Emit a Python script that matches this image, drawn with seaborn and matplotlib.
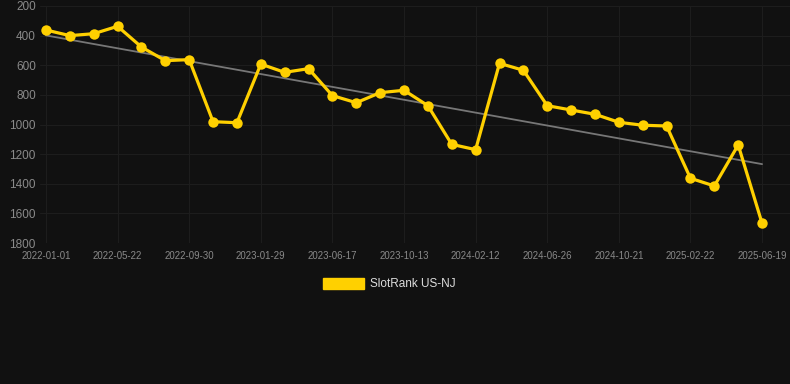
import numpy as np
import pandas as pd
import matplotlib.pyplot as plt
import seaborn as sns
from matplotlib.patches import Patch

# tick labels shown on the x axis (every third sample)
tick_labels = ["2022-01-01", "2022-05-22", "2022-09-30", "2023-01-29", "2023-06-17",
               "2023-10-13", "2024-02-12", "2024-06-26", "2024-10-21", "2025-02-22",
               "2025-06-19"]
# rank values (lower is better, axis is inverted)
rank = [362, 400, 387, 337, 477, 569, 562, 981, 988, 592,
        648, 623, 805, 853, 785, 769, 873, 1134, 1170, 587,
        634, 873, 902, 931, 985, 1005, 1010, 1363, 1415, 1138, 1667]
series_name = "SlotRank US-NJ"

gold = "#FFD000"
bg = "#111111"

df = pd.DataFrame({"idx": np.arange(len(rank)), "rank": rank})

# linear trend
coef = np.polyfit(df["idx"], df["rank"], 1)
trend = np.polyval(coef, df["idx"])

sns.set_theme(style="dark")
plt.rcParams["font.family"] = ["Liberation Sans", "DejaVu Sans"]

fig = plt.figure(figsize=(7.9, 3.84), dpi=100, facecolor=bg)
ax = fig.add_axes([40 / 790, 1 - 243 / 384, 750 / 790, 237 / 384])
ax.set_facecolor(bg)

ax.plot(df["idx"], trend, color="#777777", lw=1.3, zorder=2)
sns.lineplot(data=df, x="idx", y="rank", ax=ax, color=gold, lw=2.3,
             marker="o", markersize=7.5, markeredgewidth=0, zorder=3)

ax.set_ylim(1800, 200)
ax.set_yticks(range(200, 1801, 200))
ax.set_xlim(-0.25, 31.17)
ax.set_xticks(np.arange(0, len(rank), 3))
ax.set_xticklabels(tick_labels)
ax.set_xlabel("")
ax.set_ylabel("")

ax.grid(True, color="#1d1d1d", lw=0.8)
for s in ax.spines.values():
    s.set_visible(False)
ax.tick_params(axis="y", length=0, pad=3, labelsize=8.5, labelcolor="#8a8a8a")
ax.tick_params(axis="x", length=0, pad=6, labelsize=6.9, labelcolor="#8a8a8a")

fig.legend(handles=[Patch(facecolor=gold, edgecolor=gold)], labels=[series_name],
           loc="center", bbox_to_anchor=(0.493, 1 - 284 / 384), frameon=False,
           fontsize=8.5, labelcolor="#dddddd", handlelength=3.5, handleheight=1.1,
           handletextpad=0.5)

fig.savefig("out.png", dpi=100, facecolor=bg)
